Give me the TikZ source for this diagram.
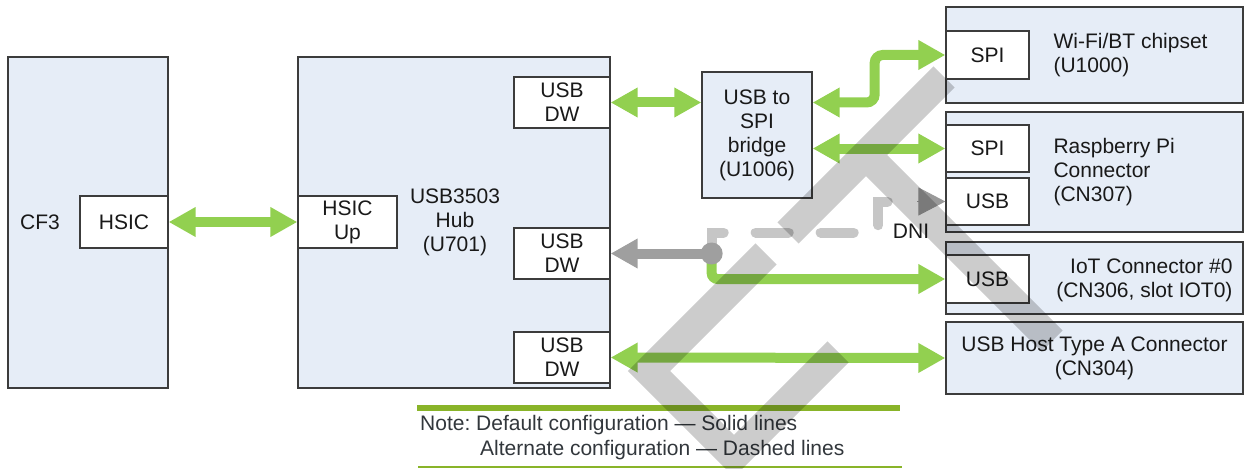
\documentclass[tikz,border=0pt]{standalone}
\usepackage{fontspec}
\setmainfont{Liberation Sans}
\usetikzlibrary{arrows.meta,calc,positioning}
\definecolor{boxfill}{RGB}{230,237,247}
\definecolor{boxline}{RGB}{60,60,60}
\definecolor{linkgreen}{RGB}{146,208,80}
\definecolor{notegreen}{RGB}{137,180,41}
\definecolor{txt}{RGB}{25,25,25}
\definecolor{notetxt}{RGB}{50,55,60}
\tikzset{gtip/.tip={Triangle[length=27pt,width=28pt]}}
\frenchspacing

\begin{document}
\begin{tikzpicture}[x=1pt, y=-1pt,
  every node/.style={font=\fontsize{21}{24}\selectfont, text=txt},
  blk/.style={draw=boxline, fill=boxfill, line width=1.3pt, inner sep=0pt},
  port/.style={draw=boxline, fill=white, line width=1.3pt, inner sep=0pt, align=center},
  garrow/.style={draw=linkgreen, line width=10pt, {gtip}-{gtip}},
  gline/.style={draw=linkgreen, line width=10pt, -{gtip}, rounded corners=6pt},
  grayarrow/.style={draw=gray!75, line width=10pt, -{gtip}},
  dashline/.style={draw=gray!45, line width=10pt, line cap=round, dash pattern=on 33pt off 32pt},
  grayhead/.style={draw=gray!80, line width=1pt, -{gtip}},
  watermark/.style={draw=black, draw opacity=0.2, line width=30pt, line join=miter}]

\useasboundingbox (0,0) rectangle (1246,468);

% blocks
\node[blk, minimum width=160pt, minimum height=331pt] (cf3) at (88,222.5) {};
\node at (40,222) {CF3};
\node[port, minimum width=88pt, minimum height=52pt] (hsic) at (124,222) {HSIC};

\node[blk, minimum width=312pt, minimum height=331pt] (hub) at (454,222.5) {};
\node[port, minimum width=99pt, minimum height=52pt] (hsicup) at (347.5,222) {HSIC\\Up};
\node[align=center] (hublbl) at (455,222) {USB3503\\Hub\\(U701)};
\node[port, minimum width=96pt, minimum height=51pt] (dwa) at (562,102.5) {USB\\DW};
\node[port, minimum width=96pt, minimum height=51pt] (dwb) at (562,253.5) {USB\\DW};
\node[port, minimum width=96pt, minimum height=51pt] (dwc) at (562,357.5) {USB\\DW};

\node[blk, minimum width=110pt, minimum height=126pt, align=center] (bridge) at (757,135) {USB to\\SPI\\bridge\\(U1006)};

\node[blk, minimum width=297pt, minimum height=96pt] (wifi) at (1094.5,55) {};
\node[port, minimum width=83pt, minimum height=48pt] (wifispi) at (987.5,55) {SPI};
\node[anchor=west, align=left] at (1050,55) {Wi-Fi/BT chipset\\(U1000)};

\node[blk, minimum width=297pt, minimum height=120pt] (rpi) at (1094.5,172) {};
\node[port, minimum width=83pt, minimum height=47pt] (rpispi) at (987.5,148.5) {SPI};
\node[port, minimum width=83pt, minimum height=47pt] (rpiusb) at (987.5,201.5) {USB};
\node[anchor=west, align=left] at (1050,172) {Raspberry Pi\\Connector\\(CN307)};

\node[blk, minimum width=297pt, minimum height=72pt] (iot) at (1094.5,278) {};
\node[port, minimum width=83pt, minimum height=48pt] (iotusb) at (987.5,279) {USB};
\node[anchor=east, align=right] at (1236,280) {IoT Connector \#0\\(CN306, slot IOT0)};

\node[blk, minimum width=297pt, minimum height=72pt, align=center] (host) at (1094.5,358) {USB Host Type A Connector\\(CN304)};

% links
\draw[garrow] (hsic.east) -- (hsicup.west);
\draw[garrow] (dwa.east) -- (dwa.east -| bridge.west);
\draw[garrow, rounded corners=8pt] (dwa.east -| bridge.east) -- ++(62,0) |- (wifispi.west);
\draw[garrow] (rpispi.west -| bridge.east) -- (rpispi.west);
\draw[garrow] (dwc.east) -- (host.west);

\coordinate (split) at ($(dwb.east)+(101,0)$);
\draw[dashline] (split) -- ++(0,-21) -| ([xshift=-67pt]rpiusb.west) -- ([xshift=-28pt]rpiusb.west);
\draw[grayhead] ([xshift=-28pt]rpiusb.west) -- (rpiusb.west);
\draw[gline] (split) |- (iotusb.west);
\draw[grayarrow] (split) -- (dwb.east);
\node[circle, fill=gray!75, minimum size=22pt, inner sep=0pt] (dot) at (split) {};
\node (dni) at (911,231) {DNI};

% note
\draw[notegreen, line width=6pt] (417,408) -- (900,408);
\node[anchor=west, text=notetxt, inner sep=0pt] (note1) at (420,425) {Note: Default configuration — Solid lines};
\node[anchor=west, text=notetxt, inner sep=0pt] (note2) at (480,450) {Alternate configuration — Dashed lines};
\draw[notegreen, line width=1.5pt] (418,467) -- (902,467);

% stamp
\draw[watermark] (788,233) -- (944,77) (866,155) -- (1052,341)
  (766,254) -- (649,371) -- (734,456) -- (838,352);

\end{tikzpicture}
\end{document}
